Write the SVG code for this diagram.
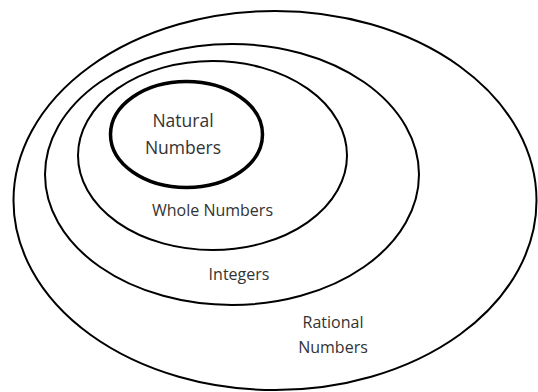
<svg xmlns="http://www.w3.org/2000/svg" width="538" height="392" viewBox="0 0 538 392">
<style>
.set{fill:none;stroke:#000;stroke-width:2}
.thick{stroke-width:3.5}
.lbl{font-family:"Open Sans","Liberation Sans",sans-serif;font-size:16px;fill:#333;text-anchor:middle}
.big{font-size:17.5px}
</style>
<rect width="538" height="392" fill="#fff"/>
<g id="rational">
<ellipse class="set" cx="275" cy="200.5" rx="261.5" ry="189.5"/>
<text class="lbl" x="333" y="328">Rational</text>
<text class="lbl" x="333" y="353">Numbers</text>
</g>
<g id="integers">
<ellipse class="set" cx="232" cy="174.5" rx="187" ry="130.5"/>
<text class="lbl" x="239" y="280">Integers</text>
</g>
<g id="whole">
<ellipse class="set" cx="212.5" cy="155.5" rx="134.5" ry="94.5"/>
<text class="lbl" x="212.5" y="216">Whole Numbers</text>
</g>
<g id="natural">
<ellipse class="set thick" cx="186.5" cy="134.5" rx="76" ry="53"/>
<text class="lbl big" x="183" y="126.5">Natural</text>
<text class="lbl big" x="183" y="153.5">Numbers</text>
</g>
<g id="connectors"></g>
</svg>
